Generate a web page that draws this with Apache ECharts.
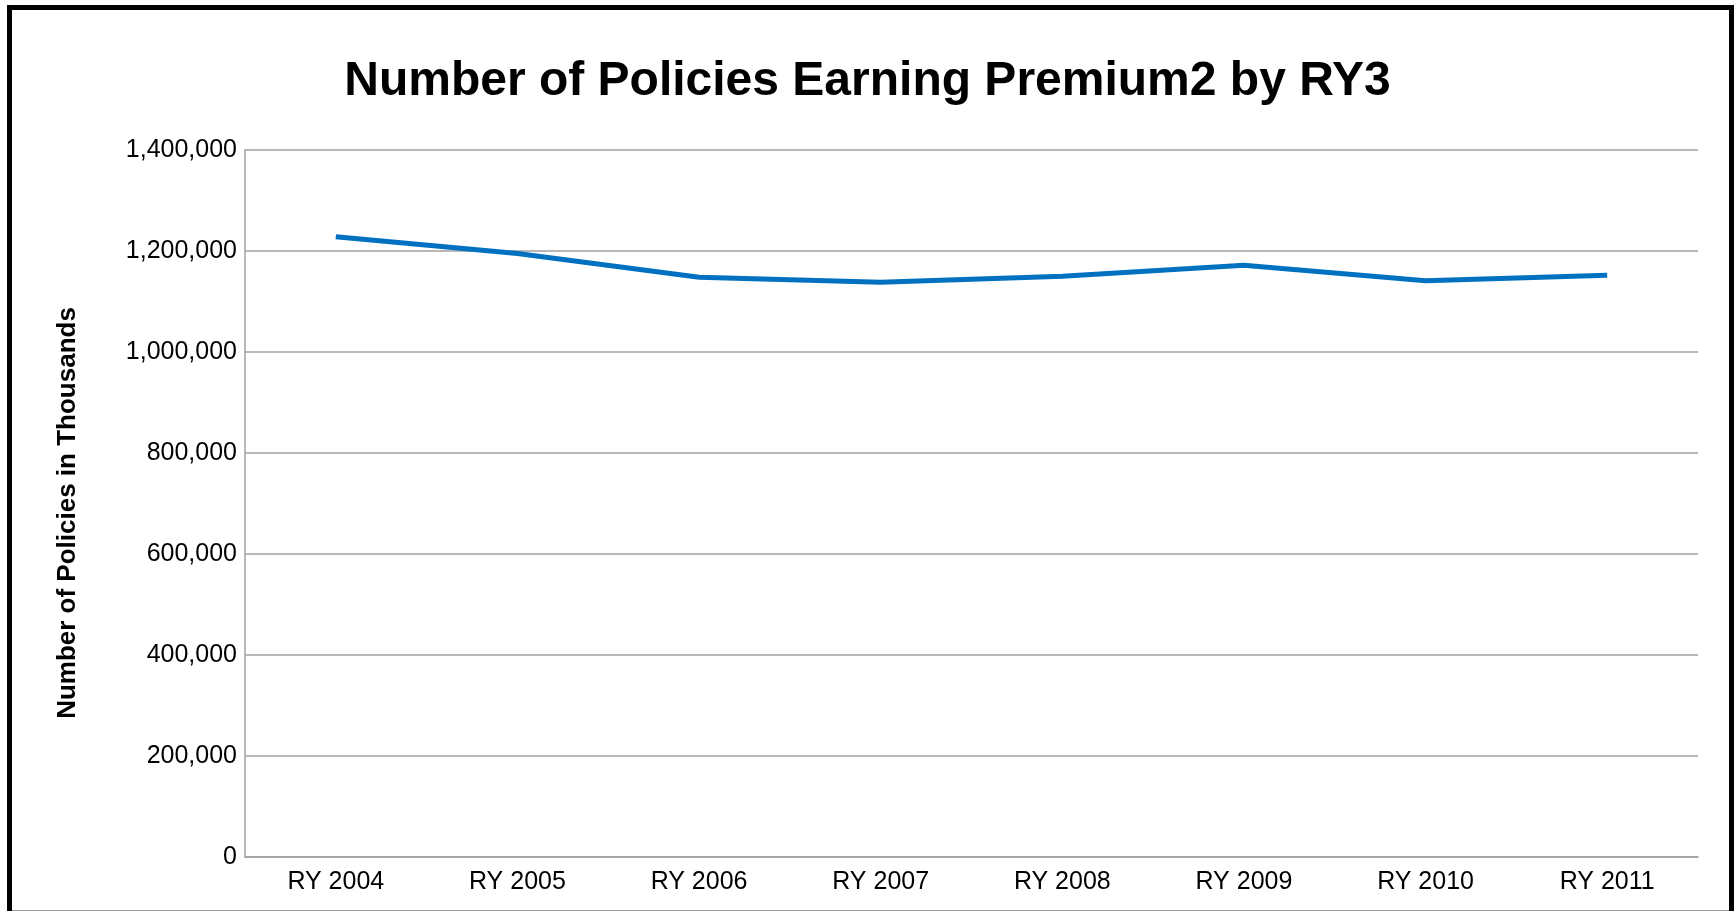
<!DOCTYPE html>
<html lang="en">
    <head>
        <meta charset="UTF-8">
        <title>Number of Policies Earning Premium2 by RY3</title>
        <style type="text/css">
            html, body {margin: 0px; padding: 0px; background-color: #ffffff;}
            #main {width: 1735px; height: 911px;}
        </style>
        <script src="https://cdn.jsdelivr.net/npm/echarts@6/dist/echarts.min.js"></script>
    </head>
    <body>
        <div id="main"></div>
        <script type="text/javascript">
            // data
            var titleText = 'Number of Policies Earning Premium2 by RY3';
            var yAxisTitle = 'Number of Policies in Thousands';
            var categories = ['RY 2004', 'RY 2005', 'RY 2006', 'RY 2007', 'RY 2008', 'RY 2009', 'RY 2010', 'RY 2011'];
            var policies = [1228000, 1195000, 1148000, 1138000, 1150000, 1172000, 1141000, 1152000];
            var yMin = 0;
            var yMax = 1400000;
            var yStep = 200000;

            var fontName = 'Liberation Sans';
            var gridColor = '#a0a0a0';

            var myChart = echarts.init(document.getElementById('main'));

            var option = {
                backgroundColor: '#ffffff',
                animation: false,
                title: {
                    text: titleText,
                    left: 'center',
                    top: 53,
                    textStyle: {
                        fontFamily: fontName,
                        fontSize: 48,
                        fontWeight: 'bold',
                        color: '#000000',
                        lineHeight: 48
                    }
                },
                grid: {
                    left: 245,
                    right: 37,
                    top: 150,
                    bottom: 54,
                    containLabel: false
                },
                xAxis: {
                    type: 'category',
                    data: categories,
                    boundaryGap: true,
                    axisLine: {show: true, lineStyle: {color: gridColor, width: 1.5}},
                    axisTick: {show: false},
                    axisLabel: {
                        margin: 13,
                        fontFamily: fontName,
                        fontSize: 25,
                        color: '#000000'
                    },
                    splitLine: {show: false}
                },
                yAxis: {
                    type: 'value',
                    min: yMin,
                    max: yMax,
                    interval: yStep,
                    axisLine: {show: true, lineStyle: {color: gridColor, width: 1.5}},
                    axisTick: {show: false},
                    axisLabel: {
                        margin: 8,
                        fontFamily: fontName,
                        fontSize: 25,
                        color: '#000000',
                        formatter: function (v) {
                            return v.toLocaleString('en-US');
                        }
                    },
                    splitLine: {show: true, lineStyle: {color: gridColor, width: 1.5}}
                },
                series: [{
                    name: yAxisTitle,
                    type: 'line',
                    data: policies,
                    showSymbol: false,
                    symbol: 'none',
                    lineStyle: {color: '#0070c0', width: 5, cap: 'butt', join: 'miter'},
                    itemStyle: {color: '#0070c0'}
                }],
                graphic: [
                    {
                        // y axis title, placed a little below the plot middle as in the original
                        type: 'text',
                        silent: true,
                        x: 68,
                        y: 513,
                        rotation: Math.PI / 2,
                        style: {
                            text: yAxisTitle,
                            fontFamily: fontName,
                            fontSize: 26,
                            fontWeight: 'bold',
                            fill: '#000000',
                            align: 'center',
                            verticalAlign: 'middle'
                        }
                    },
                    {
                        type: 'rect',
                        silent: true,
                        shape: {x: 9.5, y: 7.5, width: 1722, height: 1000},
                        style: {fill: 'none', stroke: '#000000', lineWidth: 5}
                    },
                    {
                        type: 'line',
                        silent: true,
                        shape: {x1: 12, y1: 910.5, x2: 1729, y2: 910.5},
                        style: {stroke: '#999999', lineWidth: 1}
                    }
                ]
            };

            myChart.setOption(option);
        </script>
    </body>
</html>
